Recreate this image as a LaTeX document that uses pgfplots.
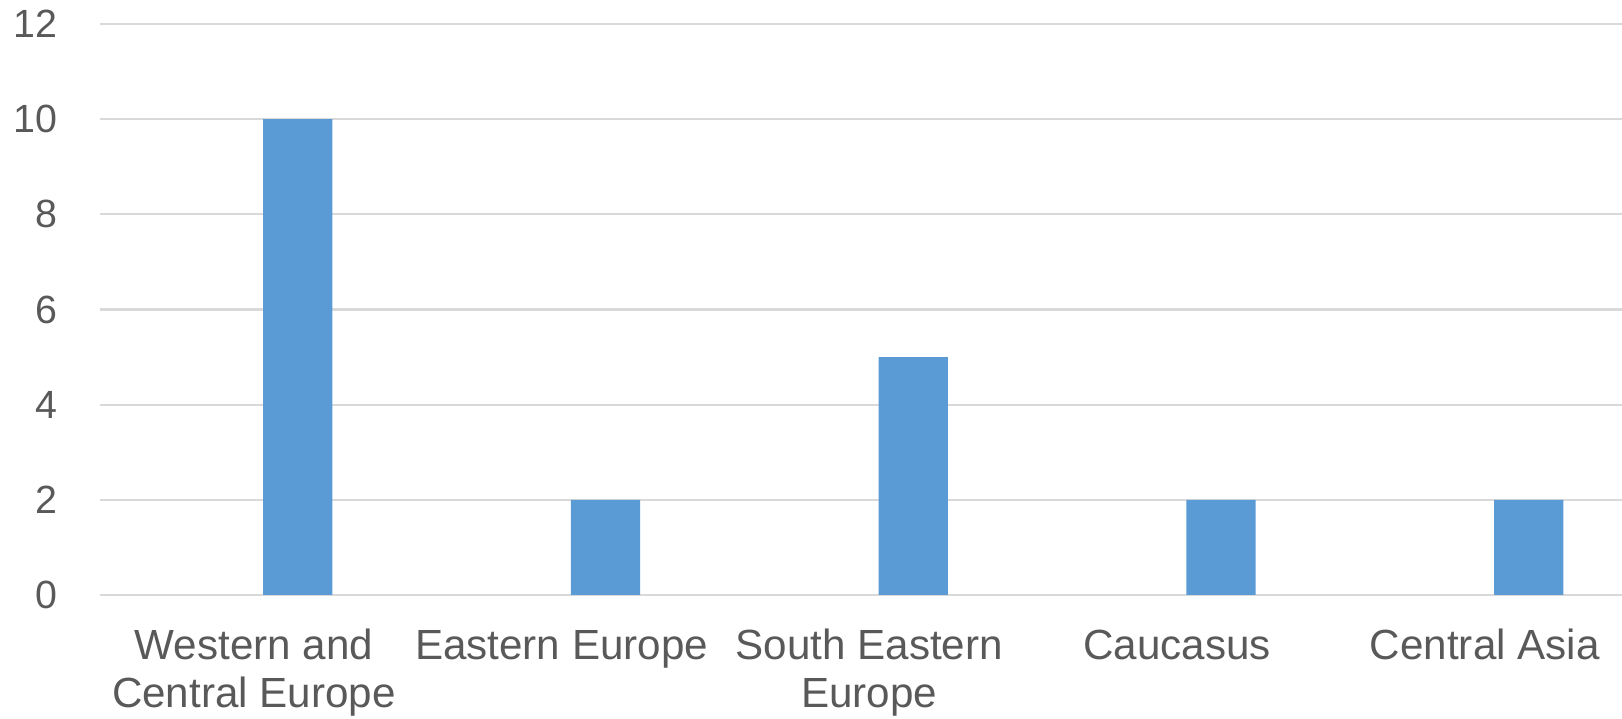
\documentclass[border=0pt]{standalone}
\usepackage{pgfplots}
\pgfplotsset{compat=1.18}
\usepackage{fontspec}
\setmainfont{Liberation Sans}
\definecolor{barblue}{HTML}{5B9BD5}
\definecolor{gridgray}{HTML}{D9D9D9}
\definecolor{textgray}{HTML}{595959}
\newcommand{\tl}{\rule{0pt}{10pt}}
\begin{document}
\begin{tikzpicture}
\begin{axis}[
  scale only axis,
  width=15.22cm, height=5.71cm,
  xmin=-0.5, xmax=4.446,
  ymin=0, ymax=12,
  ytick={0,2,4,6,8,10,12},
  xtick={0,1,2,3,4},
  xticklabels={{\tl Western and\\Central Europe},{\tl Eastern Europe},{\tl South Eastern\\Europe},{\tl Caucasus},{\tl Central Asia}},
  axis line style={draw=none},
  major tick length=0pt,
  ymajorgrids,
  grid style={gridgray, line width=0.6pt},
  /pgf/number format/assume math mode=true,
  yticklabel style={font=\fontsize{11.2}{13}\selectfont, text=textgray, inner sep=0pt, anchor=east, xshift=-0.42cm},
  xticklabel style={font=\fontsize{12}{13.6}\selectfont, text=textgray, inner sep=0pt, anchor=north, align=center, yshift=-0.29cm},
  clip=false,
]
\addplot[ybar, bar width=0.225, bar shift=0.143, fill=barblue, draw=none]
  coordinates {(0,10) (1,2) (2,5) (3,2) (4,2)};
\end{axis}
\pgfresetboundingbox
\path[use as bounding box] (-1.00,-1.24) rectangle (15.22,5.95);
\end{tikzpicture}
\end{document}
